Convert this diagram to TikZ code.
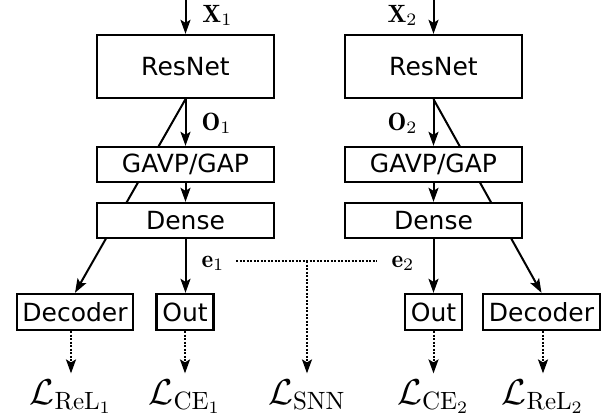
\documentclass[tikz,border=0pt]{standalone}
\usepackage{fontspec}
\newfontfamily\boxfont{DejaVu Sans}
\usetikzlibrary{arrows.meta,backgrounds}
\begin{document}
\begin{tikzpicture}[x=0.4pt,y=-0.4pt,
  font=\fontsize{10}{12}\selectfont,
  box/.style={draw,line width=0.95pt,fill=white,font=\fontsize{10}{12}\selectfont\boxfont,inner sep=0pt,minimum width=70.8pt,minimum height=14pt},
  smallbox/.style={box,minimum height=14.4pt},
  arr/.style={line width=0.8pt,-{Stealth[length=5.6pt,width=4pt,inset=1.2pt]}},
  dotarr/.style={line width=0.8pt,dash pattern=on 0.8pt off 0.6pt,-{Stealth[length=5.6pt,width=4pt,inset=1.2pt]}},
  dotline/.style={line width=0.8pt,dash pattern=on 0.8pt off 0.6pt},
  lbl/.style={inner sep=0pt,anchor=base west},
  loss/.style={anchor=base,inner xsep=0pt,inner ysep=2.2pt,font=\Large}]
\useasboundingbox (0,0) rectangle (615,416);
% left branch
\node[box,minimum height=25.2pt] (res1) at (185.5,66.5) {ResNet};
\node[box] (gap1) at (185.5,164.5) {GAVP/GAP};
\node[box] (den1) at (185.5,220.5) {Dense};
\node[smallbox,minimum width=46.4pt] (dec1) at (75,312) {Decoder};
\node[smallbox,minimum width=22.8pt] (out1) at (185,312) {Out};
% right branch
\node[box,minimum height=25.2pt] (res2) at (433.5,66.5) {ResNet};
\node[box] (gap2) at (433.5,164.5) {GAVP/GAP};
\node[box] (den2) at (433.5,220.5) {Dense};
\node[smallbox,minimum width=22.8pt] (out2) at (433.5,312) {Out};
\node[smallbox,minimum width=46.8pt] (dec2) at (541.5,312) {Decoder};
% labels
\node[lbl] (x1) at (202,22) {$\mathbf{X}_1$};
\node[lbl] (x2) at (387,22) {$\mathbf{X}_2$};
\node[lbl] (o1) at (201,130) {$\mathbf{O}_1$};
\node[lbl] (o2) at (387,130) {$\mathbf{O}_2$};
\node[lbl] (e1) at (201,267) {$\mathbf{e}_1$};
\node[lbl] (e2) at (391,267) {$\mathbf{e}_2$};
% losses
\node[loss] (lrel1) at (71,404) {$\mathcal{L}_{\mathrm{ReL}_1}$};
\node[loss] (lce1) at (185,404) {$\mathcal{L}_{\mathrm{CE}_1}$};
\node[loss] (lsnn) at (307,404) {$\mathcal{L}_{\mathrm{SNN}}$};
\node[loss] (lce2) at (433.5,404) {$\mathcal{L}_{\mathrm{CE}_2}$};
\node[loss] (lrel2) at (543,404) {$\mathcal{L}_{\mathrm{ReL}_2}$};
% diagonals behind boxes
\begin{scope}[on background layer]
\draw[arr] (res1.south) -- (dec1.north);
\draw[arr] (res2.south) -- (dec2.north);
\end{scope}
% inputs
\coordinate (in1) at (185.5,0);
\coordinate (in2) at (433.5,0);
\draw[arr] (in1) -- (res1.north);
\draw[arr] (in2) -- (res2.north);
\draw[arr] (res1.south) -- (gap1.north);
\draw[arr] (res2.south) -- (gap2.north);
\draw[arr] (gap1.south) -- (den1.north);
\draw[arr] (gap2.south) -- (den2.north);
\draw[arr] (den1.south) -- (den1.south |- out1.north);
\draw[arr] (den2.south) -- (den2.south |- out2.north);
% dotted
\draw[dotarr] (lrel1.north |- dec1.south) -- (lrel1.north);
\draw[dotarr] (lce1.north |- out1.south) -- (lce1.north);
\draw[dotarr] (lce2.north |- out2.south) -- (lce2.north);
\draw[dotarr] (lrel2.north |- dec2.south) -- (lrel2.north);
\coordinate (dl) at (236,261);
\coordinate (dr) at (377,261);
\coordinate (js) at (307,261);
\draw[dotline] (dl) -- (dr);
\draw[dotarr] (js) -- (lsnn.north);
\end{tikzpicture}
\end{document}
